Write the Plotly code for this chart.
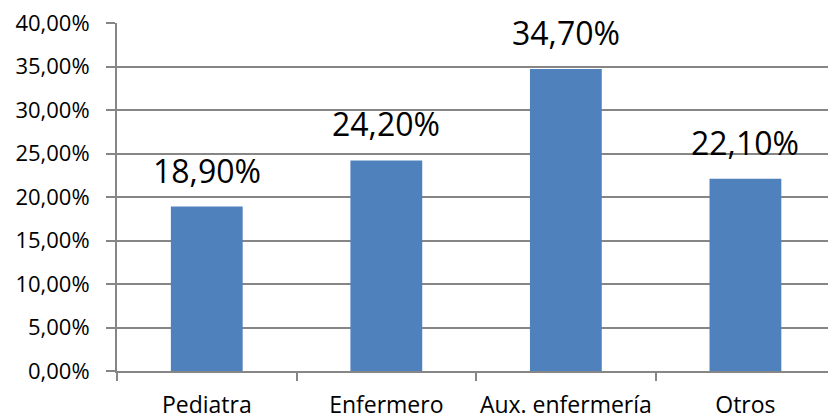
import plotly.graph_objects as go

categories = ["Pediatra", "Enfermero", "Aux. enfermería", "Otros"]
values = [0.189, 0.242, 0.347, 0.221]

fig = go.Figure()

fig.add_trace(go.Bar(
    x=categories,
    y=values,
    width=0.4,
    marker=dict(color="#4F81BD", line=dict(width=0)),
    hoverinfo="x+y",
))

# data labels sit a bit higher than plotly's "outside" text
for cat, val in zip(categories, values):
    fig.add_annotation(
        x=cat,
        y=val,
        text=f"{val * 100:.2f}%".replace(".", ","),
        showarrow=False,
        yanchor="bottom",
        yshift=13,
        font=dict(size=32, color="#000000"),
    )

fig.update_layout(
    width=828,
    height=416,
    margin=dict(l=117, r=0, t=23, b=45),
    paper_bgcolor="white",
    plot_bgcolor="white",
    separators=",.",
    font=dict(family="Open Sans", size=22, color="#000000"),
    showlegend=False,
)

fig.update_xaxes(
    type="category",
    range=[-0.5, 3.46],
    automargin=False,
    showline=True,
    linecolor="#868686",
    linewidth=2,
    ticks="outside",
    tickson="boundaries",
    ticklen=8,
    tickwidth=2,
    tickcolor="#868686",
    ticklabelstandoff=12,
    tickangle=0,
    showgrid=False,
    tickfont=dict(size=23),
)

fig.update_yaxes(
    range=[0, 0.40],
    dtick=0.05,
    tickformat=".2%",
    automargin=False,
    showline=True,
    linecolor="#868686",
    linewidth=2,
    ticks="outside",
    ticklen=9,
    tickwidth=2,
    tickcolor="#868686",
    ticklabelstandoff=12,
    showgrid=True,
    gridcolor="#868686",
    gridwidth=2,
    zeroline=False,
    tickfont=dict(size=22),
)

fig.write_html(
    "out.html",
    config={"displayModeBar": False},
    post_script="document.body.style.margin='0';",
)
